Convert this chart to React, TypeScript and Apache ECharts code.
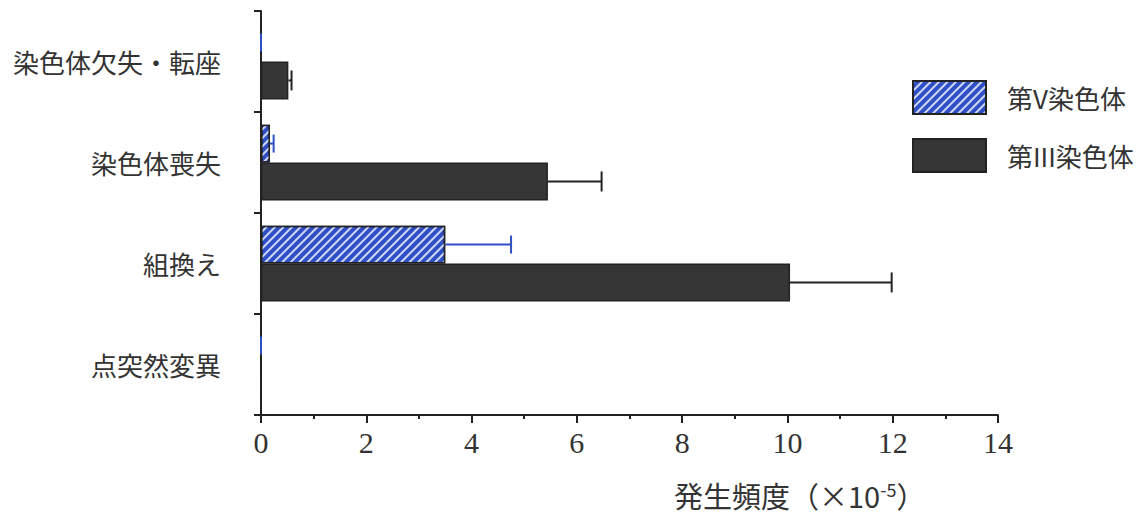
import React, { useEffect, useRef } from "react";
import * as echarts from "echarts";

// Mutation types, bottom to top on the category axis
const categories = ["点突然変異", "組換え", "染色体喪失", "染色体欠失・転座"];
const seriesNames = ["第V染色体", "第III染色体"];

// Frequencies (×10^-5) and upper ends of the error bars
const chr5Values = [0, 3.5, 0.17, 0];
const chr5ErrorHigh = [0, 4.75, 0.24, 0];
const chr3Values = [0, 10.05, 5.45, 0.52];
const chr3ErrorHigh = [0, 11.98, 6.47, 0.58];

const xMin = 0;
const xMax = 14;
const xInterval = 2;

const BLUE = "#2f4fc6";
const DARK = "#363636";
const INK = "#222222";
const TEXT = "#333333";
const CJK = "Noto Sans CJK JP";
const SERIF = "serif";

const CATEGORY_GAP = 0.25;

function errorSeries(name: string, values: number[], highs: number[], slot: number, color: string, capHalf: number) {
  return {
    type: "custom",
    name: name + "-err",
    z: 5,
    silent: true,
    encode: { x: [0, 1], y: 2 },
    data: values.map((v, i) => [v, highs[i], i]),
    renderItem: (params: any, api: any) => {
      const idx = api.value(2);
      const from = api.coord([api.value(0), idx]);
      const to = api.coord([api.value(1), idx]);
      const band = api.size([0, 1])[1];
      const barH = (band * (1 - CATEGORY_GAP)) / 2;
      const y = from[1] + (slot === 0 ? -barH / 2 : barH / 2);
      const style = { stroke: color, lineWidth: 2 };
      return {
        type: "group",
        children: [
          { type: "line", shape: { x1: from[0], y1: y, x2: to[0], y2: y }, style },
          { type: "line", shape: { x1: to[0], y1: y - capHalf, x2: to[0], y2: y + capHalf }, style },
        ],
      };
    },
  };
}

export default function App() {
  const ref = useRef<HTMLDivElement>(null);

  useEffect(() => {
    if (!ref.current) return;
    const chart = echarts.init(ref.current, undefined, { renderer: "svg" });
    chart.setOption({
      animation: false,
      backgroundColor: "#ffffff",
      textStyle: { fontFamily: CJK },
      grid: { left: 261, right: 148, top: 11, bottom: 109, containLabel: false },
      legend: {
        orient: "vertical",
        left: 907,
        top: 75,
        itemWidth: 73,
        itemHeight: 33,
        itemGap: 23,
        icon: "rect",
        data: seriesNames,
        textStyle: { fontSize: 26, color: TEXT, fontFamily: CJK, padding: [0, 0, 0, 16] },
      },
      xAxis: {
        type: "value",
        min: xMin,
        max: xMax,
        interval: xInterval,
        splitLine: { show: false },
        axisLine: { show: true, lineStyle: { color: INK, width: 2 } },
        axisTick: { show: true, length: 8, lineStyle: { color: INK, width: 2 } },
        minorTick: { show: true, splitNumber: 2, length: 4, lineStyle: { color: INK, width: 2 } },
        axisLabel: {
          show: true,
          margin: 12,
          fontSize: 30,
          fontFamily: SERIF,
          fontWeight: "normal",
          color: TEXT,
        },
      },
      yAxis: {
        type: "category",
        data: categories,
        axisLine: { show: true, lineStyle: { color: INK, width: 2 } },
        axisTick: { show: true, length: 7, lineStyle: { color: INK, width: 2 } },
        axisLabel: { fontSize: 26, color: TEXT, fontFamily: CJK, margin: 40 },
      },
      series: [
        {
          type: "bar",
          name: seriesNames[0],
          data: chr5Values,
          barGap: "0%",
          barCategoryGap: "25%",
          itemStyle: {
            color: BLUE,
            borderColor: INK,
            borderWidth: 1.5,
            decal: {
              symbol: "rect",
              symbolSize: 1,
              color: "rgba(235,240,255,0.85)",
              dashArrayX: [1, 0],
              dashArrayY: [2, 4],
              rotation: -Math.PI / 4,
            },
          },
        },
        {
          type: "bar",
          name: seriesNames[1],
          data: chr3Values,
          barGap: "0%",
          barCategoryGap: "25%",
          itemStyle: { color: DARK, borderColor: INK, borderWidth: 1.5 },
        },
        errorSeries(seriesNames[0], chr5Values, chr5ErrorHigh, 0, BLUE, 9),
        errorSeries(seriesNames[1], chr3Values, chr3ErrorHigh, 1, INK, 10),
      ],
      graphic: [
        {
          type: "text",
          left: 674,
          top: 480,
          style: {
            text: "{a|発生頻度（×10}{s|-5}{a|）}",
            rich: {
              a: { fontSize: 29, fontFamily: CJK, fill: TEXT, color: TEXT },
              s: { fontSize: 18, fontFamily: CJK, fill: TEXT, color: TEXT, verticalAlign: "top" },
            },
          },
        },
      ],
    });
    return () => chart.dispose();
  }, []);

  return (
    <div
      ref={ref}
      style={{ position: "absolute", left: 0, top: 0, width: 1146, height: 524 }}
    />
  );
}
